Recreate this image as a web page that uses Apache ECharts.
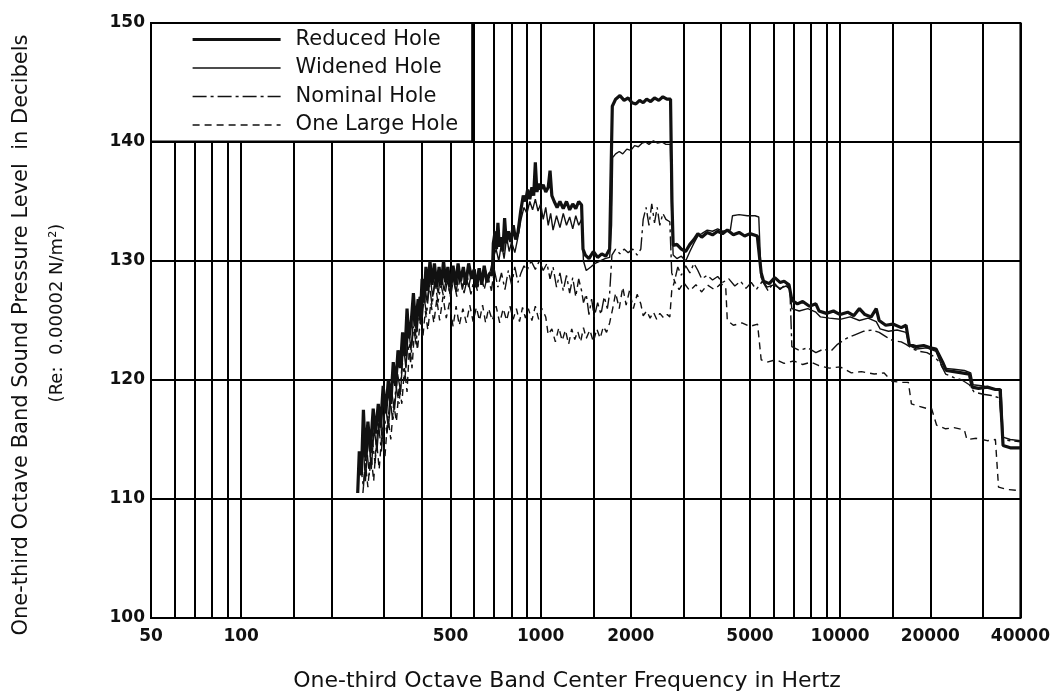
<!DOCTYPE html>
<html>
<head>
<meta charset="utf-8">
<script src="https://cdn.jsdelivr.net/npm/echarts@6/dist/echarts.min.js"></script>
<style>
html,body{margin:0;padding:0;background:#fff;}
#c{width:1053px;height:693px;}
</style>
</head>
<body>
<div id="c"></div>
<script>
// Frequencies (Hz) of the vertical rulings and of the tick labels
const gridFreqs = [50,60,70,80,90,100,150,200,300,400,500,600,700,800,900,1000,1500,2000,3000,4000,5000,6000,7000,8000,9000,10000,15000,20000,30000,40000];
const labelFreqs = [50,100,500,1000,2000,5000,10000,20000,40000];
const seriesNames = ['Reduced Hole','Widened Hole','Nominal Hole','One Large Hole'];

// [frequency Hz, dB]
const reducedHole = [
[245,110.5],[248,114],[252,112],[256,117.5],[260,113.5],[265,116.5],[270,114],[276,117.6],[281,115.5],[287,118],[292,116],[298,119.5],[304,117.2],[310,120],[316,118],[322,121.5],[328,119.5],[334,122.5],[340,121],[346,124],[352,122],[358,126],[363,123.5],[370,125],[376,127.3],[382,124.5],[390,126.8],[396,125],[402,128.5],[408,126.5],[414,129.5],[420,127.5],[427,130],[434,128],[442,129.8],[450,127.8],[458,129.5],[466,128],[474,130],[482,128.2],[490,129.5],[500,127.8],[510,129.6],[520,128],[530,129.8],[540,128.3],[552,129.5],[562,128],[575,129.8],[588,128.5],[600,129.3],[612,127.8],[624,129.4],[636,128],[648,129.6],[662,128.2],[676,129],[690,128.8],
[695,131.5],[705,132.5],[712,131],[720,133.2],[728,131.2],[738,132],[748,130.8],[758,133.6],[768,131.5],[780,132.5],[795,131.6],[810,133],[825,131.8],[840,132.4],[858,134.2],[875,135.5],[890,135],[905,136],[920,135.2],[935,136.2],[948,135.5],[960,138.3],[972,135.8],[985,136.5],[1000,136],[1020,136.4],[1040,135.8],[1060,136.2],[1075,137.6],[1090,135.5],[1110,135],[1135,134.5],[1160,135],[1190,134.4],[1220,135],[1250,134.3],[1280,134.8],[1310,134.4],[1340,135],[1370,134.7],
[1385,131],[1410,130.5],[1450,130.2],[1500,130.8],[1550,130.3],[1600,130.6],[1650,130.4],[1700,131],
[1720,138],[1735,143],[1780,143.6],[1840,143.9],[1900,143.5],[1960,143.7],[2020,143.3],[2080,143.2],[2140,143.5],[2200,143.3],[2260,143.6],[2330,143.4],[2400,143.7],[2480,143.5],[2560,143.8],[2640,143.6],[2715,143.6],
[2745,135],[2770,131.3],[2850,131.4],[2950,131],[3050,130.8],[3150,131.4],[3250,131.8],[3350,132.3],[3450,132],[3600,132.4],[3750,132.2],[3900,132.5],[4050,132.3],[4200,132.6],[4400,132.2],[4600,132.4],[4800,132.1],[5000,132.3],[5290,132.1],
[5450,129],[5550,128.3],[5800,128.1],[6050,128.6],[6300,128.2],[6500,128.3],[6750,128],
[6900,126.7],[7200,126.4],[7500,126.6],[7900,126.2],[8300,126.4],[8500,125.8],[9000,125.6],[9500,125.8],[10000,125.5],[10600,125.7],[11100,125.4],[11600,126],[12100,125.5],[12700,125.3],[13200,126],[13500,125],[14200,124.6],[15000,124.7],[16000,124.4],[16600,124.6],
[17000,123],[18000,122.8],[19000,122.9],[20000,122.7],[20900,122.6],[22000,121.5],[22600,120.8],[24000,120.7],[25500,120.6],[27000,120.5],[27600,119.4],[29000,119.3],[31000,119.4],[33000,119.2],[34200,119.2],[35000,114.5],[37000,114.3],[40000,114.3]
];

const widenedHole = [
[250,112],[255,115],[260,111.5],[266,115.5],[272,112.5],[278,116],[284,114],[290,117],[296,115],[303,118],[310,116],[318,119],[325,117.5],[333,120.5],[341,119],[348,123],[355,121],[362,124.5],[369,122.5],[377,125.5],[385,124],[393,127],[401,125.5],[410,128],[418,126.5],[427,128.8],[436,127],[445,128.5],[455,127.3],[465,129],[476,127.5],[487,128.8],[498,127.2],[510,128.6],[522,127.4],[535,129],[548,127.6],[561,128.9],[575,127.8],[590,129.2],[605,128],[620,129.4],[635,128.3],[650,129.5],[665,128.6],[680,129.2],
[695,130.3],[710,131],[725,130],[740,131.5],[755,130.2],[770,132],[785,130.8],[800,131.6],[820,130.7],[840,132],[860,133.5],[880,134.5],[900,134],[920,135],[940,134.3],[960,135.2],[980,134.2],[1000,134.8],[1020,133.5],[1040,134.5],[1060,133],[1080,134],[1100,132.6],[1130,133.8],[1160,132.8],[1190,134],[1220,133],[1250,133.7],[1280,132.7],[1310,133.8],[1340,133],[1370,133.5],
[1390,130],[1420,129.2],[1470,129.5],[1520,129.8],[1580,130],[1640,130.2],[1700,130.3],
[1725,133],[1740,138.7],[1780,139],[1830,139.2],[1880,139],[1940,139.4],[2000,139.3],[2060,139.7],[2120,139.6],[2180,139.9],[2240,140],[2300,139.8],[2380,140.1],[2460,139.9],[2540,140],[2620,139.8],[2710,139.8],
[2740,134],[2770,130.5],[2850,130.2],[2950,130.4],[3050,130],[3150,130.8],[3250,131.5],[3350,132.1],[3450,132.3],[3600,132.6],[3750,132.5],[3900,132.7],[4050,132.5],[4300,132.6],
[4370,133.8],[4600,133.9],[4900,133.8],[5200,133.8],[5350,133.7],
[5450,128.6],[5700,127.8],[6000,128],[6300,127.7],[6600,127.9],[6800,127.6],
[6900,126],[7300,125.8],[7800,126],[8300,125.7],[8600,125.3],[9200,125.2],[10000,125.1],[10800,125.3],[11600,125],[12400,125.2],[13200,124.9],[13600,124.3],[14500,124.1],[15500,124.2],[16600,124],
[17000,122.9],[18000,122.6],[19500,122.7],[20900,122.4],[22000,121],[24000,120.9],[26000,120.8],[27300,120.6],[27800,119.6],[30000,119.5],[32000,119.3],[34500,119.2],[35000,115.2],[37000,115],[40000,114.9]
];

const nominalHole = [
[250,113],[256,111],[262,114.5],[268,112],[274,115],[280,113],[287,116.5],[294,114],[300,117],[307,115.5],[314,118.5],[321,116.5],[329,119.5],[337,118],[345,121.5],[352,120],[360,123],[368,121.5],[376,124.5],[384,123],[392,126],[400,124.5],[408,127],[416,125.5],[425,128],[434,126.3],[444,128.3],[454,126.5],[465,128],[476,126.8],[488,128.3],[500,127],[512,128.5],[525,127],[540,128.8],[555,127.3],[570,128.6],[585,127.2],[600,128.5],[615,127.5],[630,129],[648,127.6],[665,128.8],[685,127.5],[700,129.3],[720,127.8],[740,129],[760,127.6],[780,129.2],[800,128],[820,129.5],[840,128.2],[860,129],[880,129.6],[900,129.2],[930,130],[960,129.3],[990,130],[1020,129.2],[1050,129.8],[1075,128.5],[1100,129.5],[1130,127.8],[1160,129],[1190,127.5],[1220,128.8],[1250,127.3],[1280,128.6],[1310,127],[1340,128.5],[1370,127.5],
[1390,126.5],[1420,127.2],[1450,125.5],[1480,126.8],[1510,125.3],[1550,126.5],[1590,125.5],[1630,127],[1670,126],[1700,127.3],
[1730,130.5],[1780,131],[1840,130.6],[1900,131],[1960,130.7],[2030,131],[2100,130.5],[2160,131],
[2200,133.5],[2250,134.5],[2300,133],[2350,134.8],[2400,133.2],[2450,134.5],[2500,133],[2560,134],[2620,133.5],[2700,133.3],
[2740,129],[2800,128.3],[2870,129.5],[2950,128.8],[3050,129.6],[3150,129],[3250,129.8],[3350,129.2],[3450,128.5],[3600,128.8],[3750,128.4],[3900,128.7],[4050,128.2],[4250,128.5],[4450,127.9],[4650,128.3],[4850,127.7],[5050,128.2],[5250,127.6],[5500,128.3],[5750,127.5],[6000,128.2],[6300,127.6],[6600,128.1],[6800,127.5],
[6900,122.8],[7300,122.5],[7800,122.7],[8300,122.3],[8800,122.6],[9300,122.4],[9800,123],[10500,123.5],[11200,123.8],[12000,124.1],[12800,124.2],[13500,124],[14300,123.6],[15000,123.3],[16000,123.2],[16600,123],
[17500,122.6],[18500,122.4],[19500,122.3],[20500,122],[21500,121.5],[22500,120.5],[24000,120.2],[25500,120],[27000,119.6],[28000,119],[30000,118.8],[32000,118.7],[34000,118.5],[35000,115],[37000,114.9],[40000,114.8]
];

const oneLargeHole = [
[255,110.5],[260,113],[265,111],[271,114],[277,111.5],[283,115],[289,112.5],[296,116],[302,113.5],[309,117],[316,115],[323,118],[330,116.5],[337,119.5],[344,118],[351,121],[358,119],[365,123],[372,121],[380,124.5],[388,122.5],[396,125],[404,123.5],[412,125.8],[420,124.2],[430,126.5],[440,124.8],[450,126.8],[460,125],[472,127],[484,125.2],[496,126.5],[510,124.5],[522,126.2],[535,124.6],[550,126],[565,124.8],[580,126.3],[595,124.9],[610,126.1],[625,125],[640,126.3],[655,124.8],[670,126],[690,125],[710,126.2],[730,124.8],[750,126],[770,125],[790,126.2],[810,125.1],[830,126],[850,124.9],[870,126.1],[890,125.2],[910,126],[935,125],[960,126.2],[985,125.1],[1010,126],[1040,125.3],
[1060,123.8],[1090,124.3],[1120,123.2],[1150,124.4],[1180,123.3],[1210,124.2],[1240,123],[1270,124.3],[1300,123.4],[1330,124.1],[1360,123.2],[1390,124.4],[1420,123.5],[1460,124.2],[1500,123.2],[1540,124.3],[1580,123.5],[1620,124.5],[1660,124],[1700,124.8],
[1740,126],[1780,127.3],[1830,126],[1880,127.8],[1930,126.3],[1980,127.5],[2040,126],[2100,127.2],[2160,126.4],[2200,125.4],[2260,125.8],[2320,125.2],[2380,125.7],[2440,125.1],[2500,125.6],[2580,125.2],[2650,125.5],[2700,125.3],
[2740,127.5],[2800,128.3],[2900,127.6],[3000,128.2],[3150,127.5],[3300,128],[3450,127.4],[3600,128],[3800,127.6],[4000,128.1],[4150,127.8],
[4200,125],[4400,124.6],[4700,124.8],[5000,124.5],[5300,124.7],
[5450,121.7],[5700,121.5],[6100,121.7],[6500,121.4],[7000,121.6],[7500,121.3],[8000,121.5],[8500,121.2],[9200,121],[10000,121.1],[10900,120.6],[11800,120.7],[13000,120.5],[14000,120.6],[14900,119.9],[16000,119.8],[16900,119.8],
[17300,118],[18300,117.8],[19500,117.6],[20200,117.6],[21000,116.2],[22500,115.9],[24000,116],[26000,115.8],[26500,115],[28500,115.1],[31000,114.9],[33000,115],[33800,111],[36000,110.8],[40000,110.7]
];

const FONT = '"DejaVu Sans", sans-serif';
const INK = '#111';
const widths = [3.2, 1.4, 1.4, 1.4];
const dashes = ['solid', 'solid', [14,4,3,4], [7,5]];

const chart = echarts.init(document.getElementById('c'), null, {renderer:'canvas'});
const mk = (i, data, z) => ({
  name:seriesNames[i], type:'line', data, showSymbol:false, symbol:'none', z,
  lineStyle:{color:INK, width:widths[i], type:dashes[i]}, itemStyle:{color:INK},
  emphasis:{disabled:true}, animation:false
});
chart.setOption({
  backgroundColor:'#fff',
  animation:false,
  grid:{left:151,right:31,top:23,bottom:75,show:true,borderColor:'#000',borderWidth:2,backgroundColor:'transparent'},
  legend:{
    orient:'vertical', left:151, top:23,
    data:seriesNames.map((n,i)=>({name:n, lineStyle:{width:widths[i], type:dashes[i], color:INK}})),
    backgroundColor:'#fff', borderColor:'#000', borderWidth:2,
    padding:[6,14,6,40], itemGap:7.5, itemWidth:88, itemHeight:20,
    itemStyle:{color:'rgba(0,0,0,0)', borderWidth:0, opacity:0},
    textStyle:{fontFamily:FONT, fontSize:21, color:INK, padding:[0,0,0,10]},
    selectedMode:false
  },
  xAxis:{
    type:'log', logBase:10, min:50, max:40000,
    axisLine:{show:false},
    axisTick:{show:false, customValues:gridFreqs},
    axisLabel:{customValues:labelFreqs, fontFamily:FONT, fontSize:17, fontWeight:'bold', color:INK, margin:10, showMinLabel:true, showMaxLabel:true, hideOverlap:false,
      formatter:(v)=>String(Math.round(v))},
    splitLine:{show:true, lineStyle:{color:'#000', width:2}},
    minorSplitLine:{show:false}
  },
  yAxis:{
    type:'value', min:100, max:150, interval:10,
    axisLine:{show:false}, axisTick:{show:false},
    axisLabel:{fontFamily:FONT, fontSize:17, fontWeight:'bold', color:INK, margin:6},
    splitLine:{show:true, lineStyle:{color:'#000', width:2}}
  },
  series:[
    mk(3, oneLargeHole, 3),
    mk(2, nominalHole, 4),
    mk(1, widenedHole, 5),
    mk(0, reducedHole, 6)
  ],
  graphic:[
    {type:'text', x:567, y:681, style:{text:'One-third Octave Band Center Frequency in Hertz', font:'22px '+FONT, fill:INK, textAlign:'center', textVerticalAlign:'middle'}},
    {type:'text', x:22, y:335, rotation:Math.PI/2, style:{text:'One-third Octave Band Sound Pressure Level  in Decibels', font:'21px '+FONT, fill:INK, textAlign:'center', textVerticalAlign:'middle'}},
    {type:'text', x:57, y:313, rotation:Math.PI/2, style:{text:'(Re:  0.00002 N/m²)', font:'18px '+FONT, fill:INK, textAlign:'center', textVerticalAlign:'middle'}}
  ]
});
</script>
</body>
</html>
